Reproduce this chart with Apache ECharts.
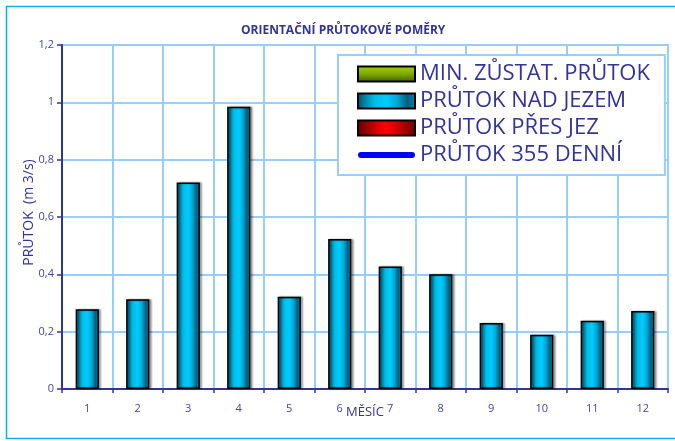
<!DOCTYPE html>
<html>
<head>
<meta charset="utf-8">
<style>
  html, body { margin: 0; padding: 0; background: #fff; }
  #chart { width: 675px; height: 441px; }
</style>
<script src="https://cdn.jsdelivr.net/npm/echarts@6/dist/echarts.min.js"></script>
</head>
<body>
<div id="chart"></div>
<script>
// Monthly flow overview (m3/s)
const months = ['1', '2', '3', '4', '5', '6', '7', '8', '9', '10', '11', '12'];
const minResidual = [];          // MIN. ZŮSTAT. PRŮTOK
const flowAboveWeir = [0.278, 0.313, 0.720, 0.985, 0.322, 0.523, 0.427, 0.400, 0.230, 0.189, 0.238, 0.272];
const flowOverWeir = [];         // PRŮTOK PŘES JEZ
const flow355 = [];              // PRŮTOK 355 DENNÍ
const yTicks = [0, 0.2, 0.4, 0.6, 0.8, 1, 1.2];

const seriesNames = ['MIN. ZŮSTAT. PRŮTOK', 'PRŮTOK NAD JEZEM', 'PRŮTOK PŘES JEZ', 'PRŮTOK 355 DENNÍ'];

const navy = '#333399';
const gridBlue = '#99CCFF';

const cyanFill = new echarts.graphic.LinearGradient(0, 0, 1, 0, [
  { offset: 0, color: '#004d66' },
  { offset: 0.12, color: '#007fa3' },
  { offset: 0.3, color: '#00bfe6' },
  { offset: 0.5, color: '#00ccff' },
  { offset: 0.68, color: '#00a8d6' },
  { offset: 0.85, color: '#005f80' },
  { offset: 1, color: '#0086ad' }
]);
const greenFill = new echarts.graphic.LinearGradient(0, 0, 0, 1, [
  { offset: 0, color: '#a6d400' },
  { offset: 0.5, color: '#7fa800' },
  { offset: 1, color: '#3d5c00' }
]);
const redFill = new echarts.graphic.LinearGradient(0, 0, 1, 0, [
  { offset: 0, color: '#5c0000' },
  { offset: 0.35, color: '#e00000' },
  { offset: 0.5, color: '#ff0000' },
  { offset: 0.7, color: '#cc0000' },
  { offset: 1, color: '#660000' }
]);

// rounded bar used as the legend mark of the line series
const lineIcon = 'path://M3,0 H54 A3,3 0 0 1 54,6 H3 A3,3 0 0 1 3,0 Z';

const chart = echarts.init(document.getElementById('chart'), null, { renderer: 'canvas' });

chart.setOption({
  animation: false,
  backgroundColor: '#ffffff',
  textStyle: { fontFamily: 'Open Sans' },
  graphic: [{
    type: 'rect',
    shape: { x: 6.5, y: 6.5, width: 680, height: 432 },
    style: { fill: 'none', stroke: '#00b0f0', lineWidth: 1.5 },
    silent: true,
    z: -1
  }],
  title: {
    text: 'ORIENTAČNÍ PRŮTOKOVÉ POMĚRY',
    left: 236,
    top: 20,
    textStyle: { fontSize: 12, fontWeight: 'bold', color: navy, fontFamily: 'Open Sans' }
  },
  legend: {
    orient: 'vertical',
    left: 338,
    top: 55,
    data: [
      { name: seriesNames[0], icon: 'rect' },
      { name: seriesNames[1], icon: 'rect' },
      { name: seriesNames[2], icon: 'rect' },
      { name: seriesNames[3], icon: lineIcon, itemStyle: { color: '#0000ff', borderWidth: 0 } }
    ],
    itemWidth: 57,
    itemHeight: 15,
    itemGap: 5,
    padding: [8, 15, 9, 19],
    backgroundColor: '#ffffff',
    borderColor: gridBlue,
    borderWidth: 2,
    borderRadius: 0,
    textStyle: { fontSize: 22, lineHeight: 20, color: navy, fontFamily: 'Open Sans' },
    z: 10
  },
  grid: {
    left: 62, right: 7, top: 45, bottom: 52,
    show: true, borderColor: gridBlue, borderWidth: 2
  },
  xAxis: {
    type: 'category',
    data: months,
    boundaryGap: true,
    name: 'MĚSÍC',
    nameLocation: 'middle',
    nameGap: 17,
    nameMoveOverlap: false,
    nameTextStyle: { fontSize: 13, color: navy },
    axisLine: { lineStyle: { color: navy, width: 2 } },
    axisTick: { show: true, length: 4, lineStyle: { color: navy, width: 1.5 } },
    axisLabel: { color: '#4444a0', fontSize: 11, margin: 14 },
    splitLine: { show: true, lineStyle: { color: gridBlue, width: 2 } }
  },
  yAxis: {
    type: 'value',
    min: 0,
    max: 1.2,
    interval: 0.2,
    name: 'PRŮTOK  (m 3/s)',
    nameLocation: 'middle',
    nameGap: 26,
    nameMoveOverlap: false,
    nameTextStyle: { fontSize: 14, color: navy, padding: [0, 0, 0, 9] },
    axisLine: { show: true, lineStyle: { color: navy, width: 2 } },
    axisTick: { show: true, length: 5, lineStyle: { color: navy, width: 1.5 } },
    axisLabel: {
      color: '#4444a0', fontSize: 11, margin: 8,
      formatter: v => {
        const t = yTicks.find(k => Math.abs(k - v) < 1e-9);
        return String(t !== undefined ? t : v).replace('.', ',');
      }
    },
    splitLine: { show: true, lineStyle: { color: gridBlue, width: 2 } }
  },
  series: [
    {
      name: seriesNames[0], type: 'bar', stack: 'flow', data: minResidual,
      barWidth: '46%',
      itemStyle: { color: greenFill, borderColor: '#000', borderWidth: 1.5 }
    },
    {
      name: seriesNames[1], type: 'bar', stack: 'flow', data: flowAboveWeir,
      barWidth: '46%',
      itemStyle: {
        color: cyanFill, borderColor: '#000', borderWidth: 1.5,
        shadowColor: 'rgba(0,0,0,0.35)', shadowBlur: 2, shadowOffsetX: 2, shadowOffsetY: 0
      }
    },
    {
      name: seriesNames[2], type: 'bar', stack: 'flow', data: flowOverWeir,
      barWidth: '46%',
      itemStyle: { color: redFill, borderColor: '#000', borderWidth: 1.5 }
    },
    {
      name: seriesNames[3], type: 'line', data: flow355,
      symbol: 'none',
      lineStyle: { color: '#0000ff', width: 5, cap: 'round' },
      itemStyle: { color: '#0000ff' }
    }
  ]
});
</script>
</body>
</html>
